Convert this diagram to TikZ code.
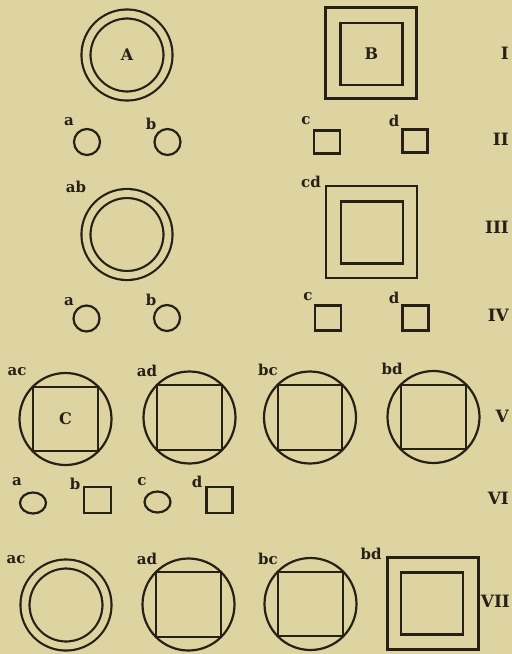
\documentclass[tikz,border=0pt]{standalone}
\usepackage{fontspec}
\setmainfont{DejaVu Serif}
\usetikzlibrary{shapes.geometric}
\definecolor{Paper}{HTML}{DED4A2}
\definecolor{Ink}{HTML}{262117}

\begin{document}
\begin{tikzpicture}[
    x=0.5pt, y=-0.5pt,
    line width=1.1pt, text=Ink,
    ring/.style={circle, draw=Ink, double=Paper, double distance=3.4pt, minimum size=41pt, inner sep=0pt, font=\fontsize{8}{9}\selectfont\bfseries},
    frame/.style={rectangle, draw=Ink, minimum size=45.5pt, inner sep=0pt},
    core/.style={rectangle, draw=Ink, minimum size=31pt, inner sep=0pt, font=\fontsize{8}{9}\selectfont\bfseries},
    cell/.style={rectangle, draw=Ink, minimum size=32.3pt, inner sep=0pt, font=\fontsize{8}{9}\selectfont\bfseries},
    hull/.style={circle, draw=Ink, minimum size=46pt, inner sep=0pt},
    dot/.style={circle, draw=Ink, minimum size=13pt, inner sep=0pt},
    oval/.style={ellipse, draw=Ink, minimum width=13pt, minimum height=10.5pt, inner sep=0pt},
    tile/.style={rectangle, draw=Ink, minimum width=13pt, minimum height=11.5pt, inner sep=0pt},
    tag/.style={inner sep=0pt, font=\fontsize{7.5}{8}\selectfont\bfseries},
    numeral/.style={anchor=east, inner sep=0pt, font=\fontsize{8.5}{10}\selectfont\bfseries}
  ]
    \fill[Paper] (0,0) rectangle (512,654);
    \useasboundingbox (0,0) rectangle (512,654);

    % row I
    \node[ring] (A) at (127,55) {A};
    \node[frame] (B) at (371,53) {};
    \node[core] (Bin) at (371.5,54) {B};
    \node[numeral] (n1) at (510,53) {I};

    % row II
    \node[dot] (a2) at (87,142) {};
    \node[dot] (b2) at (167.5,142) {};
    \node[tile] (c2) at (327,142) {};
    \node[tile, minimum width=12.5pt] (d2) at (415,141) {};
    \node[tag] (a2tag) at (69,122) {a};
    \node[tag] (b2tag) at (151,124) {b};
    \node[tag] (c2tag) at (306,121) {c};
    \node[tag] (d2tag) at (394,121) {d};
    \node[numeral] (n2) at (510,139) {II};

    % row III
    \node[ring] (ab3) at (127,234.5) {};
    \node[frame, minimum height=46pt] (cd3) at (371.5,232) {};
    \node[core] (cd3in) at (372,232.5) {};
    \node[tag] (ab3tag) at (76,187) {ab};
    \node[tag] (cd3tag) at (311,182) {cd};
    \node[numeral] (n3) at (510,227) {III};

    % row IV
    \node[dot] (a4) at (86.5,318.5) {};
    \node[dot] (b4) at (167,318) {};
    \node[tile, minimum height=12.5pt] (c4) at (328,318) {};
    \node[tile, minimum height=12.5pt] (d4) at (415.5,318) {};
    \node[tag] (a4tag) at (69,302) {a};
    \node[tag] (b4tag) at (151,300) {b};
    \node[tag] (c4tag) at (308,297) {c};
    \node[tag] (d4tag) at (394,298) {d};
    \node[numeral] (n4) at (510,315) {IV};

    % row V
    \node[cell] (ac5) at (65.5,419) {C};
    \node[cell] (ad5) at (189.5,417.5) {};
    \node[cell] (bc5) at (310,417.5) {};
    \node[cell] (bd5) at (433.5,417) {};
    \node[hull] (ac5hull) at (ac5.center) {};
    \node[hull] (ad5hull) at (ad5.center) {};
    \node[hull] (bc5hull) at (bc5.center) {};
    \node[hull] (bd5hull) at (bd5.center) {};
    \node[tag] (ac5tag) at (17,372) {ac};
    \node[tag] (ad5tag) at (147,371) {ad};
    \node[tag] (bc5tag) at (268,370) {bc};
    \node[tag] (bd5tag) at (392,369) {bd};
    \node[numeral] (n5) at (510,416) {V};

    % row VI
    \node[oval] (a6) at (33,503) {};
    \node[tile, minimum width=13.5pt, minimum height=13pt] (b6) at (97.5,500) {};
    \node[oval] (c6) at (157.5,502) {};
    \node[tile, minimum height=13pt] (d6) at (219.5,500) {};
    \node[tag] (a6tag) at (17,482) {a};
    \node[tag] (b6tag) at (75,484) {b};
    \node[tag] (c6tag) at (142,482) {c};
    \node[tag] (d6tag) at (197,482) {d};
    \node[numeral] (n6) at (510,498) {VI};

    % row VII
    \node[ring] (ac7) at (66,605) {};
    \node[cell] (ad7) at (188.5,604.5) {};
    \node[cell] (bc7) at (310.5,604) {};
    \node[hull] (ad7hull) at (ad7.center) {};
    \node[hull] (bc7hull) at (bc7.center) {};
    \node[frame, minimum height=46pt] (bd7) at (433,603.5) {};
    \node[core] (bd7in) at (432,603.5) {};
    \node[tag] (ac7tag) at (16,560) {ac};
    \node[tag] (ad7tag) at (147,559) {ad};
    \node[tag] (bc7tag) at (268,559) {bc};
    \node[tag] (bd7tag) at (371,554) {bd};
    \node[numeral] (n7) at (511,601.5) {VII};
  \end{tikzpicture}
\end{document}
